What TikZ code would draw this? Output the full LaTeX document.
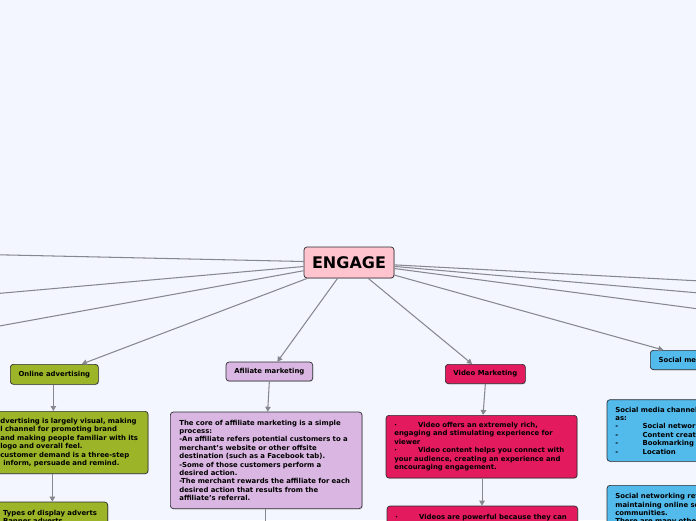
\documentclass[tikz,border=0pt]{standalone}
\usepackage{fontspec}
\setmainfont{DejaVu Sans}
\usetikzlibrary{arrows.meta,shadows}
\definecolor{bgc}{RGB}{243,246,255}
\definecolor{pinkc}{RGB}{255,196,206}
\definecolor{greenc}{RGB}{155,180,40}
\definecolor{purplec}{RGB}{218,183,226}
\definecolor{crimc}{RGB}{228,26,94}
\definecolor{bluec}{RGB}{83,186,236}
\definecolor{linec}{RGB}{135,135,142}
\definecolor{bordc}{RGB}{45,45,50}
\newcommand\bodyf{\fontsize{6.9}{8.4}\selectfont\bfseries}
\newcommand\engf{\fontsize{16}{19}\selectfont\bfseries}
\newcommand\myline[1]{\mbox{#1}}
\newcommand\vbul{\makebox[23.7pt][l]{·}}
\newcommand\sbul{\makebox[27.3pt][l]{-}}
\begin{document}
\begin{tikzpicture}[x=1pt,y=-1pt,
  boxbase/.style={draw=bordc, line width=0.7pt, rounded corners=3pt, text=black,
    drop shadow={shadow xshift=0.8pt, shadow yshift=-0.8pt, opacity=0.25}},
  title/.style={boxbase, font=\bodyf, inner xsep=4pt, inner ysep=0pt},
  body/.style={boxbase, font=\bodyf, anchor=north west, align=left, inner ysep=0pt},
  conn/.style={draw=linec, line width=1.05pt, -{Triangle[length=5pt,width=5.5pt]}}]
\useasboundingbox (0,0) rectangle (696,520);
\fill[bgc] (0,0) rectangle (696,520);
\clip (0,0) rectangle (696,520);

% off-screen ends
\coordinate (L1) at (-60,253.5);
\coordinate (L2) at (-60,298.6);
\coordinate (L3) at (-60,336.8);
\coordinate (R1) at (760,284.1);
\coordinate (R2) at (760,298.3);
\coordinate (R3) at (760,317.1);
\coordinate (affnext) at (265.7,545);

% nodes
\node[title, fill=pinkc, minimum width=90pt, minimum height=31pt, font=\engf] (engage) at (349,262.5) {ENGAGE};

\node[title, fill=greenc, anchor=north west, minimum width=88pt, minimum height=20pt] (ontitle) at (10,364) {Online advertising};
\node[title, fill=purplec, anchor=north west, minimum width=86.6pt, minimum height=19pt] (afftitle) at (225.7,361.7) {Afiliate marketing};
\node[title, fill=crimc, anchor=north west, minimum width=80pt, minimum height=19.3pt] (vtitle) at (445,364) {Video Marketing};
\node[title, fill=bluec, anchor=north west, minimum height=19.3pt, inner xsep=8.3pt] (smtitle) at (650,350) {Social media};

\node[body, fill=greenc, text width=138.7pt, inner xsep=9pt, minimum height=62.3pt] (onbody) at (-9,411) {%
\myline{dvertising is largely visual, making}\\
\myline{l channel for promoting brand}\\
\myline{and making people familiar with its}\\
\myline{logo and overall feel.}\\
\myline{customer demand is a three-step}\\
\myline{\hspace{3pt}inform, persuade and remind.}};

\node[body, fill=greenc, text width=96pt, inner xsep=8.7pt, inner ysep=8pt] (types) at (-6,501.7) {%
\myline{Types of display adverts}\\
\myline{Banner adverts}};

\node[body, fill=purplec, text width=173.7pt, inner xsep=9pt, minimum height=96.6pt] (affbody) at (170,411.7) {%
\myline{The core of affiliate marketing is a simple}\\
\myline{process:}\\
\myline{-An affiliate refers potential customers to a}\\
\myline{merchant's website or other offsite}\\
\myline{destination (such as a Facebook tab).}\\
\myline{-Some of those customers perform a}\\
\myline{desired action.}\\
\myline{-The merchant rewards the affiliate for each}\\
\myline{desired action that results from the}\\
\myline{affiliate's referral.}};

\node[body, fill=crimc, text width=174.4pt, inner xsep=8.3pt, minimum height=62.7pt] (vbody1) at (385.7,415) {%
\myline{\vbul Video offers an extremely rich,}\\
\myline{engaging and stimulating experience for}\\
\myline{viewer}\\
\myline{\vbul Video content helps you connect with}\\
\myline{your audience, creating an experience and}\\
\myline{encouraging engagement.}};

\node[body, fill=crimc, text width=174pt, inner xsep=8.3pt, inner ysep=8.3pt] (vbody2) at (386.7,505.7) {%
\myline{\vbul Videos are powerful because they can}};

\node[body, fill=bluec, text width=200pt, inner xsep=8.3pt, minimum height=61.7pt] (smbody1) at (606.7,399.3) {%
\myline{Social media channels such}\\
\myline{as:}\\
\myline{\sbul Social networking}\\
\myline{\sbul Content creation}\\
\myline{\sbul Bookmarking}\\
\myline{\sbul Location}};

\node[body, fill=bluec, text width=200pt, inner xsep=8.3pt, inner ysep=8pt] (smbody2) at (606.7,485) {%
\myline{Social networking refers to}\\
\myline{maintaining online social}\\
\myline{communities.}\\
\myline{There are many other sites}};

% connectors from centre
\draw[conn] (engage) -- (L1);
\draw[conn] (engage) -- (L2);
\draw[conn] (engage) -- (L3);
\draw[conn] (engage) -- (R1);
\draw[conn] (engage) -- (R2);
\draw[conn] (engage) -- (R3);
\draw[conn] (engage) -- ([xshift=27.5pt]ontitle.north);
\draw[conn] (engage) -- ([xshift=8pt]afftitle.north);
\draw[conn] (engage) -- ([xshift=-13.3pt]vtitle.north);
\draw[conn] (engage) -- ([xshift=13.3pt]smtitle.north west);

% branch connectors
\draw[conn] ([xshift=-1pt]ontitle.south) -- ([xshift=-1pt]ontitle.south |- onbody.north);
\draw[conn] ([xshift=-2pt]ontitle.south |- onbody.south) -- ([xshift=-2pt]ontitle.south |- types.north);
\draw[conn] (afftitle.south) -- ([xshift=-1.7pt]afftitle.south |- affbody.north);
\draw[conn] (affbody.south -| affnext) -- (affnext);
\draw[conn] (vtitle.south) -- ([xshift=-2.3pt]vtitle.south |- vbody1.north);
\draw[conn] ([xshift=-3.3pt]vtitle.south |- vbody1.south) -- ([xshift=-3.3pt]vtitle.south |- vbody2.north);
\end{tikzpicture}
\end{document}
